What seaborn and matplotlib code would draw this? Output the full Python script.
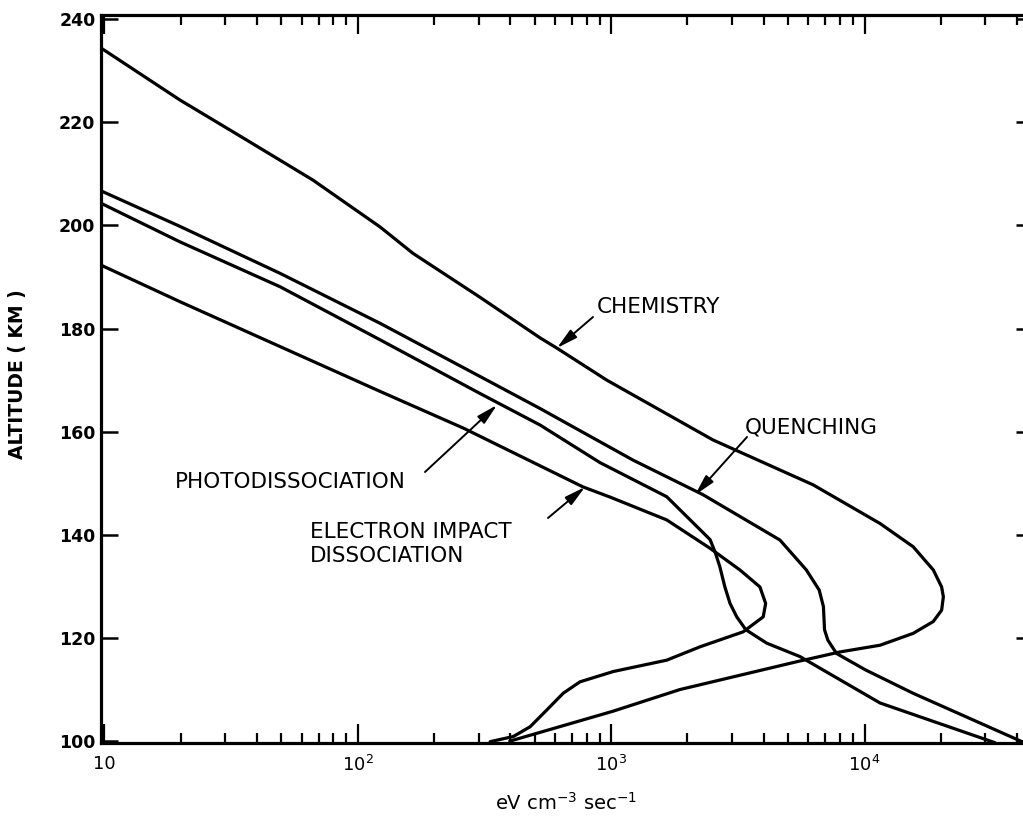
import numpy as np
import pandas as pd
import matplotlib
matplotlib.use("Agg")
import matplotlib.pyplot as plt
import seaborn as sns
from matplotlib.ticker import LogLocator, FixedLocator, NullFormatter, FixedFormatter

# ---------------- data ----------------
chem_x = [9.7, 19.9, 36.6, 66.5, 122.5, 165, 303, 524, 611, 961, 2523, 6266, 11510, 15550,
          18670, 20140, 20460, 20140, 18670, 15550, 11510, 8000, 5400, 1866, 1016, 398]
chem_y = [234.4, 224.3, 216.5, 208.8, 199.7, 194.6, 186.1, 178.2, 176.2, 170.0, 158.4, 149.7,
          142.2, 137.7, 133.2, 129.9, 128.0, 125.4, 123.2, 120.9, 118.6, 117.3, 115.4, 110.0,
          105.8, 100.0]

quench_x = [9.7, 19.9, 49.4, 122.7, 304, 524, 1219, 2301, 4634, 5890, 6620, 6880,
            6950, 7160, 7750, 10100, 15520, 41800]
quench_y = [206.7, 199.8, 190.7, 181.0, 170.7, 164.5, 154.5, 147.8, 139.0, 133.2, 129.3, 126.1,
            121.6, 119.6, 117.0, 113.8, 109.3, 99.9]

photo_x = [9.7, 19.9, 49.4, 122.7, 304, 524, 904, 1656, 2455, 2570, 2685, 2810,
           2945, 3130, 3400, 4110, 5559, 11510, 32700]
photo_y = [204.3, 196.8, 188.1, 177.8, 167.4, 161.3, 154.0, 147.4, 139.1, 136.7, 133.8, 129.9,
           126.7, 124.1, 121.6, 119.0, 116.4, 107.4, 99.7]

elec_x = [9.7, 19.9, 49.4, 122.7, 261, 774, 993, 1656, 2455, 3221, 3864, 4070,
          3981, 3319, 2244, 1656, 1019, 753, 647, 556, 479, 411, 333]
elec_y = [192.3, 185.2, 176.5, 167.8, 160.7, 149.3, 147.3, 142.9, 137.4, 133.2, 129.9, 126.7,
          124.1, 121.2, 118.3, 115.7, 113.5, 111.5, 109.3, 106.0, 102.8, 100.9, 99.9]

x_major = [10, 100, 1000, 10000]
x_major_labels = ["10", "10$^2$", "10$^3$", "10$^4$"]
y_major = [100, 120, 140, 160, 180, 200, 220, 240]
y_major_labels = ["100", "120", "140", "160", "180", "200", "220", "240"]

labels = {
    "chem": "CHEMISTRY",
    "quench": "QUENCHING",
    "photo": "PHOTODISSOCIATION",
    "elec": "ELECTRON IMPACT\nDISSOCIATION",
}
x_title = "eV cm$^{-3}$ sec$^{-1}$"
y_title = "ALTITUDE ( KM )"

# ---------------- figure ----------------
sns.set_style("ticks")
plt.rcParams["font.family"] = ["DejaVu Sans"]
plt.rcParams["text.color"] = "black"
plt.rcParams["axes.labelcolor"] = "black"
plt.rcParams["xtick.color"] = "black"
plt.rcParams["ytick.color"] = "black"

W, H = 1023, 819
fig = plt.figure(figsize=(W / 100, H / 100), dpi=100)
ax = fig.add_axes([101 / W, 1 - 742.7 / H, 932 / W, (742.7 - 15) / H])

curves = [(chem_x, chem_y), (quench_x, quench_y), (photo_x, photo_y), (elec_x, elec_y)]
for cx, cy in curves:
    sns.lineplot(x=cx, y=cy, sort=False, estimator=None, color="black",
                 lw=2.3, ax=ax, solid_joinstyle="round", solid_capstyle="round")

ax.set_xscale("log")
ax.set_xlim(9.7, 46200)
ax.set_ylim(99.7, 240.8)

for s in ["top", "bottom", "left", "right"]:
    ax.spines[s].set_linewidth(2.3)
    ax.spines[s].set_color("black")

ax.xaxis.set_major_locator(FixedLocator(x_major))
ax.xaxis.set_major_formatter(FixedFormatter(x_major_labels))
ax.xaxis.set_minor_locator(LogLocator(base=10, subs=np.arange(2, 10), numticks=20))
ax.xaxis.set_minor_formatter(NullFormatter())
ax.yaxis.set_major_locator(FixedLocator(y_major))
ax.yaxis.set_major_formatter(FixedFormatter(y_major_labels))

ax.tick_params(axis="x", which="major", direction="in", length=13.5, width=1.6,
               top=True, bottom=True, labelsize=13, pad=9, colors="black")
ax.tick_params(axis="x", which="minor", direction="in", length=7, width=1.6,
               top=True, bottom=True, colors="black")
ax.tick_params(axis="y", which="major", direction="in", length=12, width=1.8,
               left=True, right=True, labelsize=12.5, pad=4, colors="black")
for t in ax.get_yticklabels():
    t.set_fontweight("bold")

ax.set_xlabel(x_title, fontsize=14, color="black")
ax.set_ylabel(y_title, fontsize=13.5, fontweight="bold", color="black")
ax.yaxis.set_label_coords((27 - 101) / 932, 1 - (374 - 15) / 727.7)
ax.xaxis.set_label_coords((566 - 101) / 932, -(792 - 742.7) / 727.7)

def fp(px, py):
    return (px, H - py)

tfs = 15.5
fig.text(597 / W, 1 - 307 / H, labels["chem"], fontsize=tfs, ha="left", va="center")
fig.text(745 / W, 1 - 427 / H, labels["quench"], fontsize=tfs, ha="left", va="center")
fig.text(175 / W, 1 - 482 / H, labels["photo"], fontsize=tfs, ha="left", va="center")
fig.text(310 / W, 1 - 544 / H, labels["elec"], fontsize=tfs, ha="left", va="center",
         linespacing=1.2)

arrows = [((593, 317), (557, 348)), ((747, 437), (695, 495)),
          ((425, 472), (497, 405)), ((548, 518), (585, 487))]
for tail, tip in arrows:
    ax.annotate("", xy=fp(*tip), xycoords="figure pixels",
                xytext=fp(*tail), textcoords="figure pixels",
                arrowprops=dict(arrowstyle="-|>,head_length=0.9,head_width=0.22",
                                lw=1.4, color="black", shrinkA=0, shrinkB=0,
                                mutation_scale=14))

fig.savefig("out.png", dpi=100)
